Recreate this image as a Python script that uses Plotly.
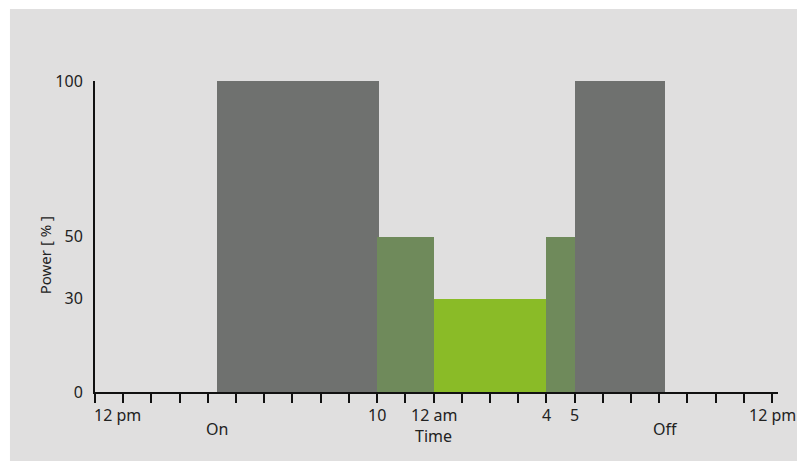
import plotly.graph_objects as go

# Data: hours after 12 pm
seg_start = [4.33, 10.0, 12.0, 16.0, 17.0]
seg_end = [10.05, 12.0, 16.0, 17.0, 20.2]
seg_power = [100, 50, 30, 50, 100]
seg_color = ["#6f716f", "#6f8a5b", "#8abb27", "#6f8a5b", "#6f716f"]

xlabel_pos = [0, 10, 12, 16, 17, 24]
xlabel_text = ["12 pm", "10", "12 am", "4", "5", "12 pm"]
event_pos = [4.33, 20.2]
event_text = ["On", "Off"]
ytick_vals = [0, 30, 50, 100]
ytick_text = ["0", "30", "50", "100"]

FONT = "Noto Sans"
TXT = "#222222"
BG = "#e0dfdf"
FS = 16

fig = go.Figure()
for s, e, p, c in zip(seg_start, seg_end, seg_power, seg_color):
    fig.add_trace(go.Bar(x=[(s + e) / 2], y=[p], width=[e - s], marker=dict(color=c, line=dict(width=0)),
                         showlegend=False, hoverinfo="skip"))

annotations = []
for xv, t in zip(xlabel_pos, xlabel_text):
    annotations.append(dict(x=xv, y=0, xref="x", yref="y", text=t, showarrow=False,
                            xanchor="left" if xv == 0 else "center", yanchor="middle",
                            xshift=-3 if xv == 0 else 0, yshift=-23,
                            font=dict(family=FONT, size=FS, color=TXT)))
for xv, t in zip(event_pos, event_text):
    annotations.append(dict(x=xv, y=0, xref="x", yref="y", text=t, showarrow=False,
                            xanchor="center", yanchor="middle", yshift=-37,
                            font=dict(family=FONT, size=FS, color=TXT)))
annotations.append(dict(x=12, y=0, xref="x", yref="y", text="Time", showarrow=False,
                        xanchor="center", yanchor="middle", yshift=-44,
                        font=dict(family=FONT, size=FS, color=TXT)))
annotations.append(dict(x=-0.073, y=0.44, xref="paper", yref="paper", text="Power [ % ]", showarrow=False,
                        textangle=-90, xanchor="center", yanchor="middle",
                        font=dict(family=FONT, size=15, color=TXT)))

fig.update_layout(
    width=797, height=461,
    margin=dict(l=95, r=19, t=81, b=69),
    paper_bgcolor=BG,
    plot_bgcolor="rgba(0,0,0,0)",
    barmode="overlay",
    bargap=0,
    annotations=annotations,
    shapes=[
        dict(type="rect", xref="paper", yref="paper", x0=-0.15, x1=-0.1245, y0=-0.3, y1=1.3,
             fillcolor="white", line=dict(width=0), layer="below"),
        dict(type="rect", xref="paper", yref="paper", x0=-0.15, x1=1.1, y0=1.2315, y1=1.3,
             fillcolor="white", line=dict(width=0), layer="below"),
    ],
    xaxis=dict(range=[0, 24.21], showgrid=False, zeroline=False, showline=True, linecolor="#111111",
               linewidth=2, tickmode="linear", tick0=0, dtick=1, ticks="outside", ticklen=9,
               tickwidth=1.5, tickcolor="#111111", showticklabels=False, fixedrange=True),
    yaxis=dict(range=[0, 100], showgrid=False, zeroline=False, showline=True, linecolor="#111111",
               linewidth=2, tickmode="array", tickvals=ytick_vals, ticktext=ytick_text, ticks="",
               ticklabelstandoff=7, tickfont=dict(family=FONT, size=FS, color=TXT), fixedrange=True),
)

fig.write_html("out.html", config={"displayModeBar": False},
               post_script="document.body.style.margin='0';document.body.style.overflow='hidden';")
